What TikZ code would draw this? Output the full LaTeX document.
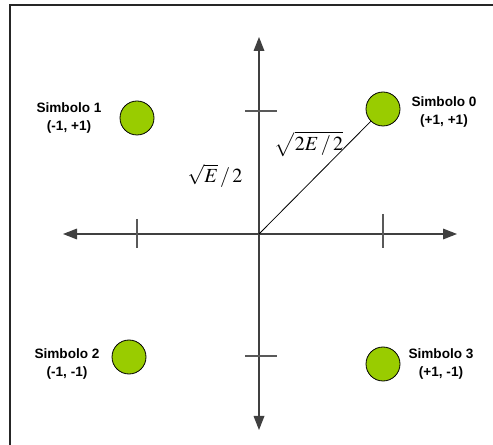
\documentclass[tikz,border=0pt]{standalone}
\usepackage{mathptmx}
\usepackage{fontspec}
\setmainfont{Liberation Sans}
\usetikzlibrary{arrows.meta}
\definecolor{punktgruen}{HTML}{99CC00}
\tikzset{
  achse/.style={draw=black!75, line width=0.9pt, -{Triangle[length=10.5pt,width=8pt]}},
  strich/.style={draw=black!65, line width=0.8pt},
  symbol/.style={circle, draw=black, line width=0.6pt, fill=punktgruen, minimum size=25.5pt, inner sep=0pt},
  beschriftung/.style={align=center, font=\fontsize{10.2}{13.5}\selectfont\bfseries, inner sep=0pt},
  formel/.style={inner sep=0pt, font=\fontsize{15}{18}\selectfont}
}
\begin{document}
\begin{tikzpicture}[x=0.75pt, y=-0.75pt]
    \useasboundingbox (0,0) rectangle (493,445);
    \draw[black!85, line width=1.2pt] (10,445) -- (10,5) -- (493,5);                 % Rahmen
    \coordinate (O) at (259,234);                                                     % Ursprung
    \coordinate (links) at (63,234);
    \coordinate (rechts) at (457,234);
    \coordinate (oben) at (259,37);
    \coordinate (unten) at (259,430);
    \draw[achse] (O) -- (links);                                                      % Achsen
    \draw[achse] (O) -- (rechts);
    \draw[achse] (O) -- (oben);
    \draw[achse] (O) -- (unten);
    \draw[strich] (137,219) -- (137,248);                                             % Striche
    \draw[strich] (383,214) -- (383,248);
    \draw[strich] (245,111) -- (277,111);
    \draw[strich] (245,356) -- (277,356);
    \node[symbol] (s0) at (383,109) {};                                               % Symbole
    \node[symbol] (s1) at (137,118) {};
    \node[symbol] (s2) at (129,357) {};
    \node[symbol] (s3) at (383,364) {};
    \draw[black, line width=0.6pt] (O) -- (s0);                                       % Diagonale
    \node[beschriftung] (t0) at (444,112) {Simbolo 0\\(+1, +1)};
    \node[beschriftung] (t1) at (69,118) {Simbolo 1\\(-1, +1)};
    \node[beschriftung] (t2) at (67,364) {Simbolo 2\\(-1, -1)};
    \node[beschriftung] (t3) at (441,364) {Simbolo 3\\(+1, -1)};
    \node[formel] (f1) at (215,176) {$\sqrt{E}\,/\,2$};
    \node[formel] (f2) at (309,144) {$\sqrt{2E\,/\,2}$};
\end{tikzpicture}
\end{document}
